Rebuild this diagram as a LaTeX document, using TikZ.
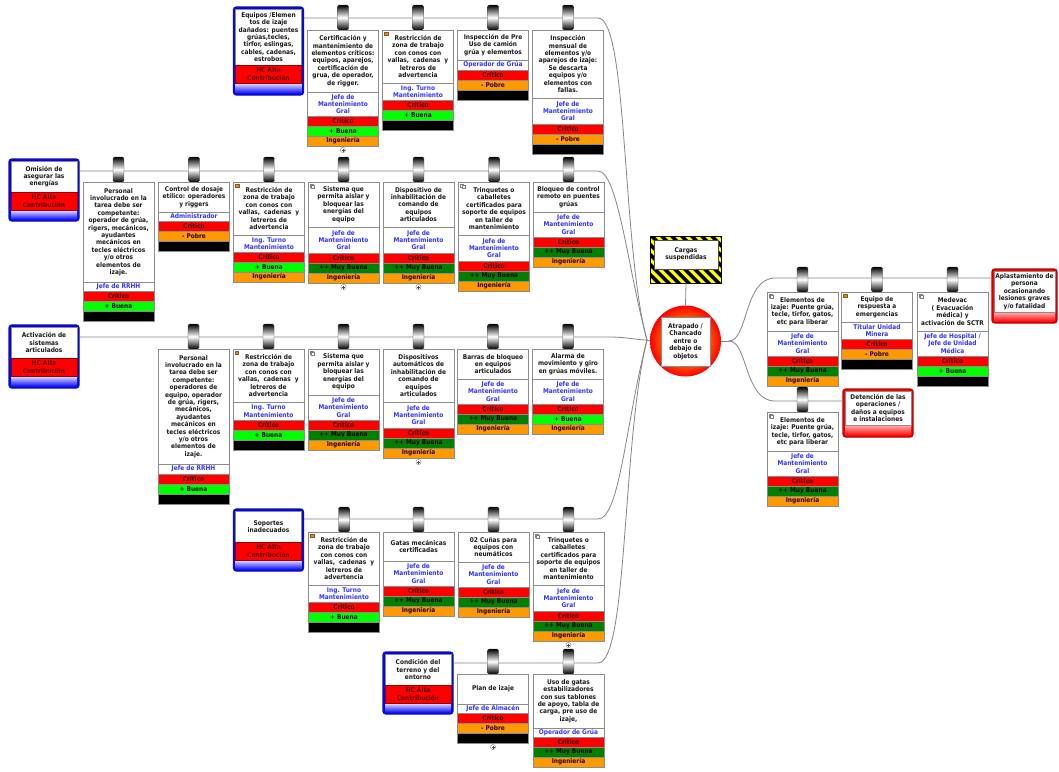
\documentclass[tikz,border=0pt]{standalone}
\usepackage{fontspec}
\setmainfont{DejaVu Sans}[FakeStretch=0.9]

\definecolor{linegray}{HTML}{858585}
\definecolor{boxgray}{HTML}{8C8C8C}
\definecolor{ttlcol}{HTML}{1A1A1A}
\definecolor{ownblue}{HTML}{3333FF}
\definecolor{cCrit}{HTML}{FF0000}
\definecolor{cBuena}{HTML}{00FF00}
\definecolor{cMuy}{HTML}{008000}
\definecolor{cOrange}{HTML}{FF9900}
\definecolor{barcol}{HTML}{2A0000}
\definecolor{hcText}{HTML}{5A0000}
\definecolor{thrEdge}{HTML}{1010B0}
\definecolor{conEdge}{HTML}{C00000}
\definecolor{hazY}{HTML}{FFFF00}

\pgfdeclareradialshading{evshade}{\pgfpoint{0bp}{0bp}}{color(0bp)=(orange);color(13bp)=(orange);color(25bp)=(red);color(50bp)=(red)}

\newcommand\dfont{\fontsize{6.5}{7.4}\selectfont\bfseries}

\tikzset{
  every node/.append style={font=\dfont},
  conn/.style={draw=linegray, line width=0.8pt},
  hanger/.style={draw=black!75, rounded corners=1.5pt, minimum width=11, inner sep=0,
    top color=black, bottom color=black, middle color=white},
  ttlbox/.style={draw=boxgray, fill=white, minimum width=71, inner sep=0.5, align=center, text=ttlcol},
  ownbox/.style={ttlbox, text=ownblue},
  barbox/.style={draw=boxgray, minimum width=71, minimum height=10, inner sep=0, text=barcol},
  outerbox/.style={rounded corners=3pt, line width=1.4pt, inner sep=0},
  inbox/.style={draw=boxgray, fill=white, inner sep=0.5, align=center, text=ttlcol},
  hcbar/.style={draw=red!60!black, fill=cCrit, minimum width=66, minimum height=18, inner sep=0,
    align=center, text=hcText},
}

% one coloured band of a control box
\newcommand\barnode[5]{\node[barbox, fill=#4] (#1) at (#2,#3+5) {#5};}
\newcommand\critbar[3]{\barnode{#1c}{#2}{#3}{cCrit}{Crítico}}
\newcommand\BK[3]{\critbar{#1}{#2}{#3}\barnode{#1e}{#2}{#3+10}{cBuena}{+ Buena}\barnode{#1k}{#2}{#3+20}{black}{}}
\newcommand\BI[3]{\critbar{#1}{#2}{#3}\barnode{#1e}{#2}{#3+10}{cBuena}{+ Buena}\barnode{#1k}{#2}{#3+20}{cOrange}{Ingeniería}}
\newcommand\MI[3]{\critbar{#1}{#2}{#3}\barnode{#1e}{#2}{#3+10}{cMuy}{++ Muy Buena}\barnode{#1k}{#2}{#3+20}{cOrange}{Ingeniería}}
\newcommand\PK[3]{\critbar{#1}{#2}{#3}\barnode{#1e}{#2}{#3+10}{cOrange}{- Pobre}\barnode{#1k}{#2}{#3+20}{black}{}}

% control: name, centre x, box top, title bottom, owner bottom, title, owner, bands
\newcommand\ctl[8]{%
  \node[hanger, minimum height=25] (#1h) at (#2,#3-12.5) {};
  \node[ttlbox, minimum height={#4-#3}] (#1) at (#2,{(#3+#4)/2}) {#6};
  \node[ownbox, minimum height={#5-#4}] (#1o) at (#2,{(#4+#5)/2}) {#7};
  #8{#1}{#2}{#5}}

% threat: name, centre x, top, white bottom, bottom, text
\newcommand\threat[6]{%
  \node[outerbox, draw=thrEdge, fill=blue, minimum width=70, minimum height={#5-#3}] (#1) at (#2,{(#3+#5)/2}) {};
  \shade[top color=blue!10, bottom color=blue] (#2-33,#4+18) rectangle (#2+33,#5-1.2);
  \node[inbox, minimum width=66, minimum height={#4-#3-2}] (#1w) at (#2,{(#3+2+#4)/2}) {#6};
  \node[hcbar] (#1r) at (#2,#4+9) {HC Alta\\Contribución};}

% consequence: name, centre x, width, top, white bottom, bottom, text
\newcommand\conseq[7]{%
  \node[outerbox, draw=conEdge, fill=red, minimum width=#3, minimum height={#6-#4}] (#1) at (#2,{(#4+#6)/2}) {};
  \shade[top color=red!30, bottom color=red] (#2-#3/2+2,#5) rectangle (#2+#3/2-2,#6-1.2);
  \node[inbox, minimum width={#3-4}, minimum height={#5-#4-2}] (#1w) at (#2,{(#4+2+#5)/2}) {#7};}

% small marks
\newcommand\icoO[2]{\filldraw[draw=brown!70!black, fill=orange, line width=0.3pt] (#1-33.5,#2+2) rectangle ++(3.5,3.5);}
\newcommand\icoW[2]{\draw[gray, fill=white, line width=0.3pt] (#1-33.5,#2+2) rectangle ++(3,3);
  \draw[gray, fill=white, line width=0.3pt] (#1-32,#2+3.5) rectangle ++(3,3);}
\newcommand\plusmark[2]{\draw[gray, fill=white, line width=0.4pt] (#1,#2) circle (2.6);
  \draw[black!70, line width=0.4pt] (#1-1.5,#2) -- (#1+1.5,#2) (#1,#2-1.5) -- (#1,#2+1.5);}

\newcommand\restr{Restricción de\\zona de trabajo\\con conos con\\vallas,\ \ cadenas\ \ y\\letreros de\\advertencia}
\newcommand\jmg{Jefe de\\Mantenimiento\\Gral}
\newcommand\turno{Ing. Turno\\Mantenimiento}
\newcommand\aislar{Sistema que\\permita aislar y\\bloquear las\\energías del\\equipo}
\newcommand\trinq{Trinquetes o\\caballetes\\certificados para\\soporte de equipos\\en taller de\\mantenimiento}
\newcommand\elem{Elementos de\\izaje: Puente grúa,\\tecle, tirfor, gatos,\\etc para liberar}

\begin{document}
\begin{tikzpicture}[x=1pt, y=-1pt]
\useasboundingbox (0,0) rectangle (1059,771);
\fill[white] (0,0) rectangle (1059,771);

% threats
\threat{t1}{268.5}{7}{65}{95}{Equipos /Elemen\\tos de izaje\\dañados: puentes\\grúas,tecles,\\tirfor, eslingas,\\cables, cadenas,\\estrobos}
\threat{t2}{44}{159}{192}{221}{Omisión de\\asegurar las\\energías}
\threat{t3}{44}{325}{358}{388}{Activación de\\sistemas\\articulados}
\threat{t4}{268.5}{509}{542}{571}{Soportes\\inadecuados}
\threat{t5}{418}{652}{685}{714}{Condición del\\terreno y del\\entorno}

% consequences
\conseq{q1}{1024.5}{65}{269}{312}{323}{Aplastamiento de\\persona\\ocasionando\\lesiones graves\\y/o fatalidad}
\conseq{q2}{878}{70}{389}{425}{437}{Detención de las\\operaciones /\\daños a equipos\\e instalaciones}

% hazard
\node[minimum width=70, minimum height=46, inner sep=0, fill=hazY] (haz) at (686,260) {};
\begin{scope}
  \clip (haz.south west) rectangle (haz.north east);
  \foreach \k in {590,600,...,720} {\fill[black] (\k,237) -- ++(5,0) -- ++(46,46) -- ++(-5,0) -- cycle;}
\end{scope}
\draw[black, line width=0.8pt] (haz.south west) rectangle (haz.north east);
\node[inbox, draw=black!70, minimum width=64, minimum height=29] (hazw) at (686,254.5) {Cargas\\suspendidas};

% top event
\node[circle, minimum size=71, inner sep=0, shade, shading=evshade] (ev) at (685.5,341) {};
\node[inbox, minimum width=49, minimum height=49] (evt) at (685.5,341.5) {Atrapado /\\Chancado\\entre o\\debajo de\\objetos};

% connectors
\coordinate (r1) at (0,18);
\coordinate (r2) at (0,171);
\coordinate (r3) at (0,337);
\coordinate (r4) at (0,519);
\coordinate (r5) at (0,663);
\coordinate (r6) at (0,278);
\coordinate (r7) at (0,401);
\coordinate (jL) at (647,340);
\coordinate (jR) at (729,341);
\draw[conn] (t1.east |- r1) -- (598,18) .. controls (628,18) and (622,250) .. (jL);
\draw[conn] (t2.east |- r2) -- (598,171) .. controls (618,171) and (628,270) .. (jL);
\draw[conn] (t3.east |- r3) -- (608,337) .. controls (628,337) and (636,340) .. (jL);
\draw[conn] (t4.east |- r4) -- (598,519) .. controls (620,519) and (626,420) .. (jL);
\draw[conn] (t5.east |- r5) -- (598,663) .. controls (628,663) and (622,440) .. (jL);
\draw[conn] (jL) -- (ev.west);
\draw[conn] (ev.east) -- (jR);
\draw[conn] (jR) .. controls (748,341) and (744,278) .. (775,278) -- (q1.west |- r6);
\draw[conn] (jR) .. controls (748,341) and (744,401) .. (775,401) -- (q2.west |- r7);
\draw[conn] (haz.south) -- (ev.north);

% row 1 controls
\ctl{c1}{343}{30}{92}{116}{Certificación y\\mantenimiento de\\elementos críticos:\\equipos, aparejos,\\certificación de\\grua, de operador,\\de rigger.}{\jmg}{\BI}
\ctl{c2}{418}{30}{83}{100}{\restr}{\turno}{\BK}
\ctl{c3}{493}{30}{60}{70}{Inspección de Pre\\Uso de camión\\grúa y elementos}{Operador de Grúa}{\PK}
\ctl{c4}{568}{30}{98}{124}{Inspección\\mensual de\\elementos y/o\\aparejos de izaje:\\Se descarta\\equipos y/o\\elementos con\\fallas.}{\jmg}{\PK}

% row 2 controls
\ctl{d1}{118.5}{182}{282}{291}{Personal\\involucrado en la\\tarea debe ser\\competente:\\operador de grúa,\\rigers, mecánicos,\\ayudantes\\mecánicos en\\tecles eléctricos\\y/o otros\\elementos de\\izaje.}{Jefe de RRHH}{\BK}
\ctl{d2}{194}{182}{212}{221}{Control de dosaje\\etílico: operadores\\y riggers}{Administrador}{\PK}
\ctl{d3}{269}{182}{235}{252}{\restr}{\turno}{\BI}
\ctl{d4}{343.5}{182}{227}{253}{\aislar}{\jmg}{\MI}
\ctl{d5}{418.5}{182}{227}{253}{Dispositivo de\\inhabilitación de\\comando de\\equipos\\articulados}{\jmg}{\MI}
\ctl{d6}{494}{182}{235}{261}{\trinq}{\jmg}{\MI}
\ctl{d7}{568.5}{182}{212}{237}{Bloqueo de control\\remoto en puentes\\grúas}{\jmg}{\MI}

% row 3 controls
\ctl{e1}{193.5}{349}{464}{474}{Personal\\involucrado en la\\tarea debe ser\\competente:\\operadores de\\equipo, operador\\de grúa, rigers,\\mecánicos,\\ayudantes\\mecánicos en\\tecles eléctricos\\y/o otros\\elementos de\\izaje.}{Jefe de RRHH}{\BK}
\ctl{e2}{268.5}{349}{402}{420}{\restr}{\turno}{\BK}
\ctl{e3}{343.5}{349}{395}{420}{\aislar}{\jmg}{\MI}
\ctl{e4}{418.5}{349}{402}{428}{Dispositivos\\automáticos de\\inhabilitación de\\comando de\\equipos\\articulados}{\jmg}{\MI}
\ctl{e5}{493}{349}{379}{404}{Barras de bloqueo\\en equipos\\articulados}{\jmg}{\MI}
\ctl{e6}{568}{349}{379}{404}{Alarma de\\movimiento y giro\\en grúas móviles.}{\jmg}{\BI}

% row 4 controls
\ctl{f1}{344}{532}{585}{602}{\restr}{\turno}{\BK}
\ctl{f2}{418.5}{532}{561}{586}{Gatas mecánicas\\certificadas}{\jmg}{\MI}
\ctl{f3}{493.5}{532}{562}{587}{02 Cuñas para\\equipos con\\neumáticos}{\jmg}{\MI}
\ctl{f4}{568.5}{532}{585}{611}{\trinq}{\jmg}{\MI}

% row 5 controls
\ctl{g1}{493}{674}{704}{713}{Plan de izaje}{Jefe de Almacén}{\PK}
\ctl{g2}{568.5}{674}{728}{737}{Uso de gatas\\estabilizadores\\con sus tablones\\de apoyo, tabla de\\carga, pre uso de\\izaje,}{Operador de Grúa}{\MI}

% recovery controls
\ctl{k1}{802.5}{292}{331}{356}{\elem}{\jmg}{\MI}
\ctl{k2}{877}{292}{322}{339}{Equipo de\\respuesta a\\emergencias}{Titular Unidad\\Minera}{\PK}
\ctl{k3}{952.5}{292}{331}{356}{Medevac\\( Evacuación\\médica) y\\activación de SCTR}{Jefe de Hospital /\\Jefe de Unidad\\Médica}{\BK}
\ctl{k4}{802.5}{412}{451}{476}{\elem}{\jmg}{\MI}

% corner icons
\icoO{418}{30} \icoO{269}{182} \icoO{268.5}{349} \icoO{344}{532} \icoO{877}{292}
\icoW{343.5}{182} \icoW{494}{182} \icoW{343.5}{349} \icoW{568.5}{532}
\icoW{802.5}{292} \icoW{952.5}{292} \icoW{802.5}{412}

% expand marks
\plusmark{343}{150} \plusmark{343.5}{287} \plusmark{418.5}{287}
\plusmark{418.5}{462} \plusmark{568.5}{645} \plusmark{493}{747}
\end{tikzpicture}
\end{document}
